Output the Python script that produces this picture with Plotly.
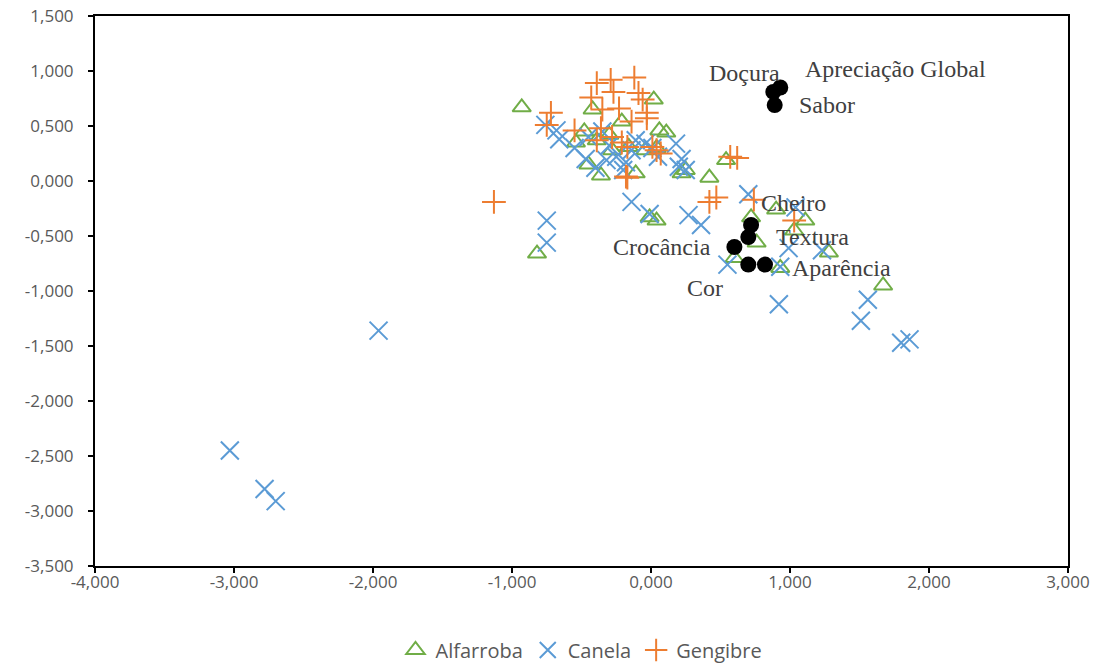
import plotly.graph_objects as go

# ---------------- data ----------------
alf_x = [-0.93, -0.82, 0.02, -0.42, -0.21, -0.54, -0.45, -0.36, -0.11, 0.06, 0.11, 0.04, 0.22, 0.42,
         -0.39, -0.28, -0.16, -0.04, 0.25, 0.54, -0.01, 0.04, 0.90, 1.11, 1.03, 0.72, 0.76, 0.93, 1.28,
         1.67, 0.60, -0.48, -0.30]
alf_y = [0.67, -0.66, 0.74, 0.65, 0.54, 0.35, 0.15, 0.05, 0.07, 0.46, 0.44, 0.30, 0.07, 0.03,
         0.37, 0.28, 0.31, 0.28, 0.10, 0.19, -0.33, -0.36, -0.26, -0.36, -0.45, -0.33, -0.56, -0.79, -0.65,
         -0.95, -0.70, 0.45, 0.42]

can_x = [-3.03, -2.78, -2.70, -1.96, 1.51, 1.56, 1.80, 1.86, 0.92, 0.55, 0.93, 0.99, 1.23, 1.04, 0.70,
         -0.14, -0.01, 0.27, 0.36, -0.75, -0.75,
         -0.76, -0.68, -0.66, -0.45, -0.47, -0.40, -0.32, -0.25, -0.18, -0.14, -0.11, -0.04, 0.18, 0.20,
         0.25, 0.22, 0.01, -0.35, -0.20, 0.05, -0.55, -0.30]
can_y = [-2.45, -2.80, -2.91, -1.36, -1.27, -1.08, -1.47, -1.44, -1.12, -0.76, -0.78, -0.61, -0.63, -0.24, -0.12,
         -0.19, -0.30, -0.31, -0.40, -0.36, -0.56,
         0.51, 0.46, 0.38, 0.40, 0.20, 0.12, 0.19, 0.22, 0.17, 0.28, 0.37, 0.34, 0.34, 0.13,
         0.10, 0.20, 0.30, 0.45, 0.10, 0.22, 0.30, 0.32]

gen_x = [-1.13, -0.72, -0.75, -0.55, -0.39, -0.29, -0.27, -0.12, -0.09, -0.06, -0.43, -0.35, -0.23, -0.03,
         -0.03, -0.14, -0.36, -0.28, -0.39, -0.21, -0.17, 0.01, 0.04, 0.07, -0.18, -0.17, 0.47, 0.42,
         0.57, 0.62, 0.74, 1.03]
gen_y = [-0.19, 0.62, 0.51, 0.46, 0.89, 0.92, 0.81, 0.94, 0.80, 0.74, 0.76, 0.65, 0.66, 0.62,
         0.57, 0.54, 0.48, 0.40, 0.37, 0.35, 0.31, 0.31, 0.28, 0.25, 0.04, 0.03, -0.15, -0.19,
         0.22, 0.21, -0.17, -0.36]

attr_names = ["Doçura", "Apreciação Global", "Sabor", "Cheiro", "Textura", "Crocância", "Aparência", "Cor"]
attr_x = [0.88, 0.93, 0.89, 0.72, 0.70, 0.60, 0.82, 0.70]
attr_y = [0.81, 0.85, 0.69, -0.40, -0.51, -0.60, -0.76, -0.76]

y_ticks = [1.5, 1.0, 0.5, 0.0, -0.5, -1.0, -1.5, -2.0, -2.5, -3.0, -3.5]
y_tick_text = ["1,500", "1,000", "0,500", "0,000", "-0,500", "-1,000", "-1,500", "-2,000", "-2,500", "-3,000", "-3,500"]
x_ticks = [-4, -3, -2, -1, 0, 1, 2, 3]
x_tick_text = ["-4,000", "-3,000", "-2,000", "-1,000", "0,000", "1,000", "2,000", "3,000"]

# label placement (styling only): anchor, xshift, yshift
label_style = {
    "Doçura": ("right", 9, 19),
    "Apreciação Global": ("left", 23, 19),
    "Sabor": ("left", 22, 0),
    "Cheiro": ("left", 8, 22),
    "Textura": ("left", 26, 0),
    "Crocância": ("right", -21, 0),
    "Aparência": ("left", 25, -3),
    "Cor": ("right", -23, -23),
}

fig = go.Figure()
fig.add_trace(go.Scatter(x=alf_x, y=alf_y, mode="markers", name="Alfarroba",
                         marker=dict(symbol="triangle-up-open", size=16, color="#70AD47",
                                     line=dict(width=2, color="#70AD47"))))
fig.add_trace(go.Scatter(x=can_x, y=can_y, mode="markers", name="Canela",
                         marker=dict(symbol="x-thin-open", size=18, color="#5B9BD5",
                                     line=dict(width=2, color="#5B9BD5"))))
fig.add_trace(go.Scatter(x=gen_x, y=gen_y, mode="markers", name="Gengibre",
                         marker=dict(symbol="cross-thin-open", size=17, color="#ED7D31",
                                     line=dict(width=2, color="#ED7D31"))))
fig.add_trace(go.Scatter(x=attr_x, y=attr_y, mode="markers", name="Atributos", showlegend=False,
                         marker=dict(symbol="circle", size=16, color="black")))

for n, xv, yv in zip(attr_names, attr_x, attr_y):
    anc, xs, ys = label_style[n]
    fig.add_annotation(x=xv, y=yv, text=n, showarrow=False, xanchor=anc, yanchor="middle",
                       xshift=xs, yshift=ys,
                       font=dict(family="Liberation Serif", size=24, color="#404040"))

axis_common = dict(showline=True, linecolor="black", linewidth=2, mirror=True,
                   ticks="outside", ticklen=5, tickcolor="black", tickwidth=1.5,
                   showgrid=False, zeroline=False, automargin=False,
                   tickfont=dict(family="Open Sans", size=17, color="#595959"))

fig.update_xaxes(range=[-4, 3], tickvals=x_ticks, ticktext=x_tick_text, ticklabelstandoff=-5, **axis_common)
fig.update_yaxes(range=[-3.5, 1.5], tickvals=y_ticks, ticktext=y_tick_text, ticklabelstandoff=11, **axis_common)

fig.update_layout(
    width=1103, height=664,
    margin=dict(l=95, r=35, t=16, b=98),
    plot_bgcolor="white", paper_bgcolor="white",
    showlegend=True,
    legend=dict(orientation="h", x=0.5, xanchor="center", yref="container", y=14 / 664, yanchor="middle",
                font=dict(family="Open Sans", size=20, color="#595959"),
                itemwidth=30, tracegroupgap=0),
)

fig.write_html("out.html")
